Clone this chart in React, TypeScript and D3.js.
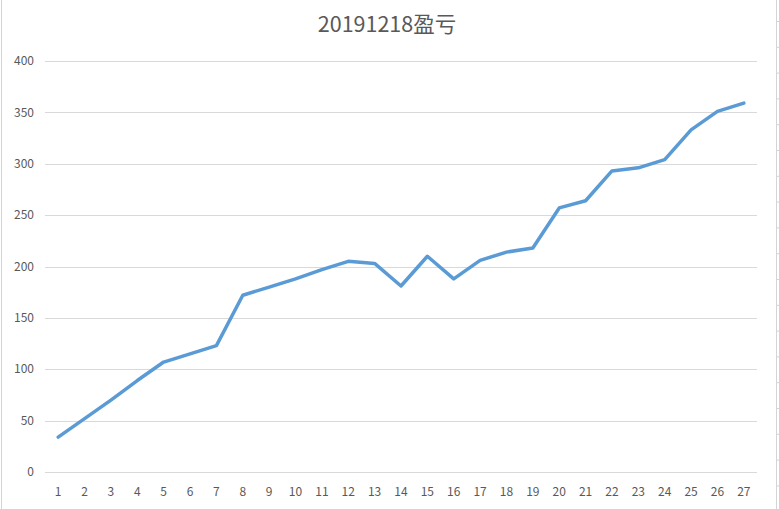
import * as d3 from 'd3'
import { useEffect, useRef } from 'react'

const title = '20191218盈亏'
const categories = Array.from({ length: 27 }, (_, i) => String(i + 1))
const profit = [
  34, 52, 70, 89, 107, 115, 123, 172, 180, 188, 197, 205, 203, 181, 210, 188, 206, 214, 218, 257, 264, 293, 296,
  304, 333, 351, 359,
]
const yTicks = [0, 50, 100, 150, 200, 250, 300, 350, 400]

const W = 779
const H = 509
const font = '"Noto Sans CJK SC", "Noto Sans", sans-serif'

export default function App() {
  const ref = useRef<HTMLDivElement>(null)

  useEffect(() => {
    if (!ref.current) return
    const svg = d3
      .select(ref.current)
      .call((g) => g.select('svg').remove())
      .append('svg')
      .attr('width', W)
      .attr('height', H)
      .style('display', 'block')

    svg.append('rect').attr('width', W).attr('height', H).attr('fill', '#fff')

    // sheet edges
    svg.append('line').attr('x1', 1.5).attr('x2', 1.5).attr('y1', 0).attr('y2', H).attr('stroke', '#d4d4d4')
    svg.append('line').attr('x1', 776.5).attr('x2', 776.5).attr('y1', 0).attr('y2', H).attr('stroke', '#d4d4d4')
    d3.range(21.5, H, 25.8).forEach((y) => {
      svg.append('line').attr('x1', 776).attr('x2', W).attr('y1', y).attr('y2', y).attr('stroke', '#d4d4d4')
    })

    const x = d3.scaleBand().domain(categories).range([45, 757])
    const y = d3.scaleLinear().domain([0, 400]).range([472, 61])

    svg
      .append('g')
      .selectAll('line')
      .data(yTicks)
      .join('line')
      .attr('x1', 45)
      .attr('x2', 757)
      .attr('y1', (d) => Math.round(y(d)) + 0.5)
      .attr('y2', (d) => Math.round(y(d)) + 0.5)
      .attr('stroke', '#d9d9d9')

    svg
      .append('g')
      .selectAll('text')
      .data(yTicks)
      .join('text')
      .attr('x', 34)
      .attr('y', (d) => y(d))
      .attr('dy', '0.35em')
      .attr('text-anchor', 'end')
      .attr('font-family', font)
      .attr('font-size', 12)
      .attr('fill', '#595959')
      .text((d) => d)

    svg
      .append('g')
      .selectAll('text')
      .data(categories)
      .join('text')
      .attr('x', (d) => x(d)! + x.bandwidth() / 2)
      .attr('y', 496)
      .attr('text-anchor', 'middle')
      .attr('font-family', font)
      .attr('font-size', 12)
      .attr('fill', '#595959')
      .text((d) => d)

    const line = d3
      .line<number>()
      .x((_, i) => x(categories[i])! + x.bandwidth() / 2)
      .y((d) => y(d))

    svg
      .append('path')
      .datum(profit)
      .attr('d', line)
      .attr('fill', 'none')
      .attr('stroke', '#5b9bd5')
      .attr('stroke-width', 3.5)
      .attr('stroke-linejoin', 'round')
      .attr('stroke-linecap', 'round')

    svg
      .append('text')
      .attr('x', 387)
      .attr('y', 32)
      .attr('text-anchor', 'middle')
      .attr('font-family', font)
      .attr('font-size', 21.5)
      .attr('fill', '#595959')
      .text(title)
  }, [])

  return <div ref={ref} style={{ position: 'absolute', left: 0, top: 0 }} />
}
